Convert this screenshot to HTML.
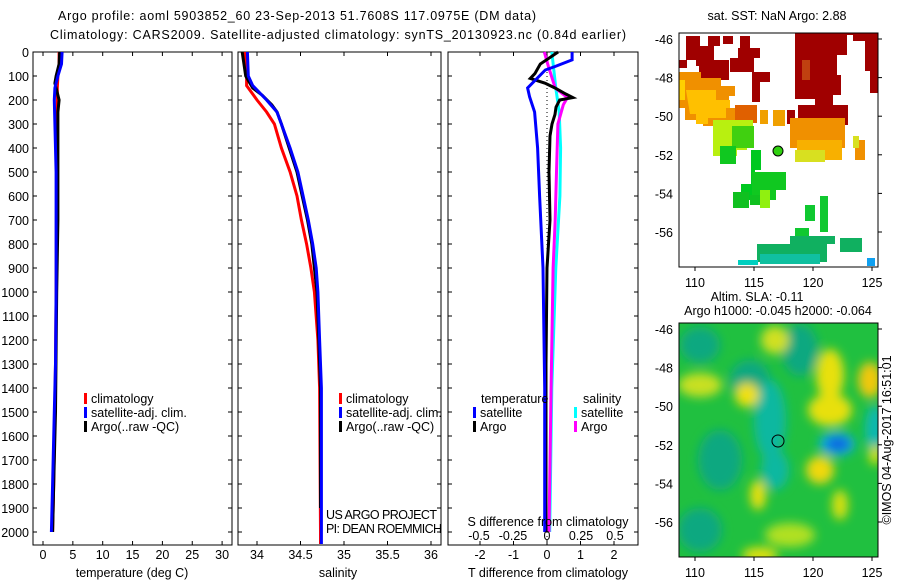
<!DOCTYPE html>
<html><head><meta charset="utf-8"><style>
html,body{margin:0;padding:0;background:#fff;}
svg{display:block;font-family:"Liberation Sans",sans-serif;}
text{font-size:12.5px;fill:#000;}
</style></head><body>
<svg id="fig" width="900" height="580" viewBox="0 0 900 580">
<defs>
<filter id="blur4" x="-50%" y="-50%" width="200%" height="200%"><feGaussianBlur stdDeviation="5"/></filter>
<clipPath id="clipSST"><rect x="679" y="33" width="199" height="234"/></clipPath>
<clipPath id="clipSLA"><rect x="679" y="323" width="199" height="234"/></clipPath>
</defs>
<text x="58" y="20" textLength="478">Argo profile: aoml 5903852_60 23-Sep-2013 51.7608S 117.0975E (DM data)</text>
<text x="50" y="39" textLength="576">Climatology: CARS2009. Satellite-adjusted climatology: synTS_20130923.nc (0.84d earlier)</text>
<g id="panels"></g>
<g id="maps">
 <text x="777" y="20" text-anchor="middle">sat. SST: NaN Argo: 2.88</text>
 <g clip-path="url(#clipSST)">
  <rect x="679" y="33" width="199" height="234" fill="#fff"/>
  <path d="M686 36h14v10h8v-10h12v10h-6v14h-10v6h-8v-6h-10zM679 60h8v8h-8z" fill="#a00000"/>
  <path d="M699 60h30v20h-50v-8h20z" fill="#a00000"/>
  <path d="M723 36h10v8h-10zM740 36h10v12h-10zM738 48h22v10h-6v14h-24v-14h8z" fill="#a00000"/>
  <path d="M752 72h18v10h-10v20h-8z" fill="#a00000"/>
  <path d="M795 33h83v60h-8v-22h-5v-30h-12v-6h-6v20h-10v20h4v20h-8v28h-10v-14h-8v-10h-20z" fill="#a00000"/>
  <path d="M798 105h50v20h-50z" fill="#a00000"/>
  <path d="M787 110h8v14h-8z" fill="#a00000"/>
  <rect x="802" y="60" width="8" height="20" fill="#c04010"/>
  <path d="M679 72h22v6h20v8h14v10h-6v12h12v12h-16v6h-22v-6h-18v-12h-6v8h-6v-12h-6z" fill="#f09000"/>
  <path d="M686 90h30v10h14v8h-4v10h-18v6h-12v-10h-6z" fill="#ffc000"/>
  <path d="M679 80h6v20h-6z" fill="#ffd000"/>
  <path d="M735 105h22v18h-22z" fill="#e06000"/>
  <path d="M760 110h8v14h-8zM773 110h12v16h-12z" fill="#f0a000"/>
  <path d="M790 118h55v30h-55z" fill="#f09000"/>
  <path d="M797 140h45v20h-45z" fill="#f8b000"/>
  <path d="M795 150h30v12h-30z" fill="#d8e020"/>
  <path d="M855 140h10v20h-10z" fill="#f09000"/>
  <path d="M853 136h6v12h-6z" fill="#d8e020"/>
  <path d="M713 120h40v20h-6v10h-10v6h-24z" fill="#b8f010"/>
  <path d="M732 126h22v22h-22z" fill="#40d010"/>
  <path d="M720 146h16v18h-16z" fill="#10c820"/>
  <path d="M751 150h10v20h-6v30h-14v-16h10z" fill="#00c820"/>
  <path d="M752 172h34v18h-10v10h-24z" fill="#10c820"/>
  <path d="M733 192h16v16h-16zM750 195h16v10h-16z" fill="#10c020"/>
  <path d="M760 190h10v18h-10z" fill="#90f010"/>
  <path d="M805 205h10v16h-10zM820 196h8v36h-8zM795 228h14v10h-14z" fill="#10c830"/>
  <path d="M757 244h70v18h-70zM790 236h45v8h-45zM840 238h22v14h-22z" fill="#10b060"/>
  <path d="M760 254h60v10h-60z" fill="#10c0a0"/>
  <path d="M738 260h20v5h-20z" fill="#00d0c0"/>
  <path d="M867 258h8v8h-8z" fill="#10a0f0"/>
 </g>
 <circle cx="778" cy="151" r="5" fill="#30d010" stroke="#000" stroke-width="1"/>
 <text x="757" y="301" text-anchor="middle">Altim. SLA: -0.11</text>
 <text x="778" y="315" text-anchor="middle">Argo h1000: -0.045 h2000: -0.064</text>
 <g clip-path="url(#clipSLA)">
  <rect x="679" y="323" width="199" height="234" fill="#20c040"/>
  <g filter="url(#blur4)">
   <ellipse cx="700" cy="345" rx="20" ry="18" fill="#10a880"/>
   <ellipse cx="800" cy="350" rx="18" ry="26" fill="#10a880"/>
   <ellipse cx="750" cy="380" rx="20" ry="20" fill="#10a880"/>
   <ellipse cx="770" cy="420" rx="16" ry="40" fill="#10b8a0"/>
   <ellipse cx="775" cy="470" rx="14" ry="20" fill="#10b8a0"/>
   <ellipse cx="720" cy="460" rx="22" ry="30" fill="#10a880"/>
   <ellipse cx="700" cy="530" rx="22" ry="22" fill="#10a880"/>
   <ellipse cx="875" cy="430" rx="10" ry="25" fill="#10b8b0"/>
   <ellipse cx="700" cy="385" rx="22" ry="12" fill="#c8e020"/>
   <ellipse cx="775" cy="340" rx="14" ry="14" fill="#d0e020"/>
   <ellipse cx="747" cy="395" rx="12" ry="12" fill="#f0e010"/>
   <ellipse cx="830" cy="375" rx="14" ry="26" fill="#e8e010"/>
   <ellipse cx="830" cy="410" rx="22" ry="16" fill="#e8e010"/>
   <ellipse cx="870" cy="380" rx="12" ry="18" fill="#f0c810"/>
   <ellipse cx="820" cy="470" rx="14" ry="14" fill="#f0d810"/>
   <ellipse cx="758" cy="495" rx="8" ry="15" fill="#e8e010"/>
   <ellipse cx="840" cy="505" rx="8" ry="15" fill="#d8e010"/>
   <ellipse cx="790" cy="535" rx="25" ry="12" fill="#b0e020"/>
   <ellipse cx="760" cy="555" rx="18" ry="8" fill="#e0e010"/>
   <ellipse cx="875" cy="455" rx="6" ry="10" fill="#e0e010"/>
   <ellipse cx="837" cy="444" rx="18" ry="12" fill="#10b0e0"/>
   <ellipse cx="838" cy="444" rx="12" ry="7" fill="#1060e0"/>
  </g>
 </g>
 <circle cx="778" cy="441" r="6" fill="none" stroke="#000" stroke-width="1"/>
 <text transform="translate(891,440) rotate(-90)" text-anchor="middle">©IMOS 04-Aug-2017 16:51:01</text>
</g>
</svg>
<script>
// ---- profile data ----
const tDepth   = [0,50,100,150,200,300,400,500,700,1000,1300,1500,1800,2000];
const tClim    = [2.7,2.7,2.5,2.4,2.4,2.35,2.3,2.3,2.25,2.2,2.1,2.0,1.8,1.6];
const tSat     = [3.2,3.1,2.5,2.0,1.9,2.0,2.1,2.2,2.2,2.2,2.1,1.9,1.6,1.4];
const tArgoDepth = [0,50,100,130,160,200,250,400,700,1000,1500,1800,2000];
const tArgo    = [2.8,2.7,2.2,2.0,2.3,2.7,2.5,2.5,2.5,2.3,2.1,1.8,1.6];

const sDepth   = [0,100,140,200,250,300,400,500,600,700,800,900,1000,1200,1400,2000,2050];
const sClim    = [33.86,33.88,33.88,34.0,34.11,34.2,34.28,34.38,34.46,34.51,34.57,34.62,34.66,34.70,34.72,34.73,34.73];
const sSat     = [33.89,33.90,33.95,34.11,34.23,34.28,34.38,34.47,34.53,34.59,34.64,34.68,34.70,34.72,34.74,34.74,34.74];
const sArgoDepth = [0,100,150,180,220,250,300,400,500,600,700,800,900,1000,1200,1400,1900];
const sArgo    = [33.83,33.87,33.95,34.06,34.17,34.23,34.28,34.37,34.46,34.52,34.58,34.63,34.66,34.69,34.71,34.73,34.73];

const dtSatDepth = [0,33,60,75,150,187,250,400,600,900,1400,2000];
const dtSat    = [0.75,0.75,0.25,-0.05,-0.58,-0.52,-0.37,-0.28,-0.22,-0.12,-0.07,-0.07];
const dtArgoDepth = [0,50,90,110,130,150,175,190,200,230,260,300,350,500,700,900,1300,2000];
const dtArgo   = [0.33,-0.2,-0.36,-0.5,-0.06,0.24,0.56,0.77,0.38,0.27,0.24,0.15,0.09,0.06,0.09,0,-0.03,-0.03];
const dsSatDepth = [0,100,150,250,400,600,900,1400,2000];
const dsSat    = [0.035,0.055,0.065,0.09,0.1,0.095,0.065,0.035,0.02];
const dsArgoDepth = [0,60,150,190,220,300,500,700,900,1400,2000];
const dsArgo   = [-0.02,0.01,0.06,0.15,0.12,0.08,0.07,0.06,0.045,0.03,0.015];

const depthTicks = [0,100,200,300,400,500,600,700,800,900,1000,1100,1200,1300,1400,1500,1600,1700,1800,1900,2000];
const tTicks = [0,5,10,15,20,25,30];
const sTicks = [34,34.5,35,35.5,36];
const sTickLabels = ["34","34.5","35","35.5","36"];
const dtTicks = [-2,-1,0,1,2];
const dsTicks = [-0.5,-0.25,0,0.25,0.5];
const latTicks = [-46,-48,-50,-52,-54,-56];
const lonTicks = [110,115,120,125];

const NS='http://www.w3.org/2000/svg';
const svg=document.getElementById('panels');
function el(tag,attrs,parent){const e=document.createElementNS(NS,tag);for(const k in attrs)e.setAttribute(k,attrs[k]);(parent||svg).appendChild(e);return e;}
function txt(x,y,s,anchor,parent){const e=el('text',{x:x,y:y,'text-anchor':anchor||'start'},parent);e.textContent=s;return e;}

const yTop=52, yBot=545;
const yD=d=>yTop+d*0.24;
const xT=v=>43+v*5.97;
const xS=v=>257+(v-34)*87;
const xDT=v=>547+v*33.5;
const xDS=v=>547+v*136;

function frame(x0,x1,name){
  const r=el('rect',{x:x0,y:yTop,width:x1-x0,height:yBot-yTop,fill:'none',stroke:'#000','stroke-width':1});
  
  
  depthTicks.forEach(d=>{el('line',{x1:x0,x2:x0+4,y1:yD(d),y2:yD(d),stroke:'#000'});el('line',{x1:x1-4,x2:x1,y1:yD(d),y2:yD(d),stroke:'#000'});});
}
function line(xf,vals,depths,color,name,w){
  const pts=vals.map((v,i)=>xf(v).toFixed(1)+','+yD(depths[i]).toFixed(1)).join(' ');
  const p=el('polyline',{points:pts,fill:'none',stroke:color,'stroke-width':w||3,'stroke-linejoin':'miter'});
  
  
}
function xticks(ticks,xf,labels,yLab){
  ticks.forEach((t,i)=>{
    el('line',{x1:xf(t),x2:xf(t),y1:yTop,y2:yTop+4,stroke:'#000'});
    el('line',{x1:xf(t),x2:xf(t),y1:yBot-4,y2:yBot,stroke:'#000'});
    const lt=txt(xf(t),yLab,labels?labels[i]:String(t),'middle');
    
    
  });
}
depthTicks.forEach(d=>{const t=txt(29,yD(d)+5,String(d),'end');
  
  });

// Panel 1
frame(33,232,'temperature-panel');
xticks(tTicks,xT,null,559);
line(xT,tClim,tDepth,'#ff0000','temp-climatology-line');
line(xT,tArgo,tArgoDepth,'#000000','temp-argo-line');
line(xT,tSat,tDepth,'#0000ff','temp-satellite-line');
let a=txt(132,577,'temperature (deg C)','middle');

// Panel 2
frame(238,441,'salinity-panel');
xticks(sTicks,xS,sTickLabels,559);
line(xS,sClim,sDepth,'#ff0000','sal-climatology-line');
line(xS,sArgo,sArgoDepth,'#000000','sal-argo-line');
line(xS,sSat,sDepth,'#0000ff','sal-satellite-line');
a=txt(338,577,'salinity','middle');

// Panel 3
frame(448,638,'difference-panel');
xticks(dtTicks,xDT,null,559);
el('line',{x1:xDT(0),x2:xDT(0),y1:yTop,y2:yBot,stroke:'#000','stroke-dasharray':'1,3'});
line(xDS,dsSat,dsSatDepth,'#00ffff','sdiff-satellite-line');
line(xDS,dsArgo,dsArgoDepth,'#ff00ff','sdiff-argo-line');
line(xDT,dtArgo,dtArgoDepth,'#000000','tdiff-argo-line');
line(xDT,dtSat,dtSatDepth,'#0000ff','tdiff-satellite-line');
dsTicks.forEach(t=>{const l=txt(xDS(t),540,String(t),'middle');
  
  });
a=txt(548,526,'S difference from climatology','middle');
a=txt(548,577,'T difference from climatology','middle');

function legend(x,y,color,label,name){
  el('rect',{x:x,y:y-10,width:3,height:11,fill:color});
  const t=txt(x+7,y,label);
  
  
}
legend(84,403,'#ff0000','climatology','legend-climatology');
legend(84,417,'#0000ff','satellite-adj. clim.','legend-satellite-adj');
legend(84,431,'#000000','Argo(..raw -QC)','legend-argo');
legend(339,403,'#ff0000','climatology','legend-climatology-2');
legend(339,417,'#0000ff','satellite-adj. clim.','legend-satellite-adj-2');
legend(339,431,'#000000','Argo(..raw -QC)','legend-argo-2');
a=txt(481,403,'temperature');
a=txt(583,403,'salinity');
legend(473,417,'#0000ff','satellite','legend-t-satellite');
legend(473,431,'#000000','Argo','legend-t-argo');
legend(574,417,'#00ffff','satellite','legend-s-satellite');
legend(574,431,'#ff00ff','Argo','legend-s-argo');
a=txt(326,519,'US ARGO PROJECT');a.setAttribute('textLength','111');
a=txt(326,533,'PI: DEAN ROEMMICH');a.setAttribute('textLength','116');

const maps=document.getElementById('maps');
const xLon=v=>695+(v-110)*11.8;
function mapAxes(top,name){
  const yLat=v=>top+6+(-46-v)*19.3;
  const r=el('rect',{x:679,y:top,width:199,height:234,fill:'none',stroke:'#000'},maps);
  
  
  latTicks.forEach(v=>{el('line',{x1:878,x2:882,y1:yLat(v),y2:yLat(v),stroke:'#000'},maps);
    const t=txt(673,yLat(v)+5,String(v),'end',maps);
    
    });
  lonTicks.forEach(v=>{el('line',{x1:xLon(v),x2:xLon(v),y1:top+234,y2:top+238,stroke:'#000'},maps);
    const t=txt(xLon(v),top+254,String(v),'middle',maps);
    
    });
}
mapAxes(33,'sst-map-frame');
mapAxes(323,'sla-map-frame');
</script>
</body></html>
